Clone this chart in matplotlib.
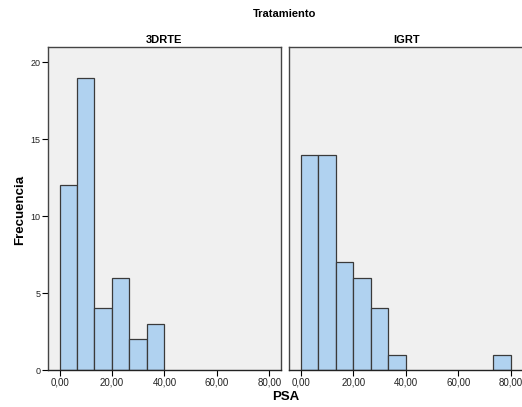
import numpy as np
import matplotlib.pyplot as plt

plt.rcParams['font.family'] = ['Liberation Sans', 'DejaVu Sans']

# histogram bins (PSA), width 80/12
bin_edges = np.linspace(0, 80, 13)
counts_3drte = [12, 19, 4, 6, 2, 3, 0, 0, 0, 0, 0, 0]
counts_igrt = [14, 14, 7, 6, 4, 1, 0, 0, 0, 0, 0, 1]
panels = ["3DRTE", "IGRT"]
xticks = [0, 20, 40, 60, 80]
xticklabels = ["0,00", "20,00", "40,00", "60,00", "80,00"]
yticks = [0, 5, 10, 15, 20]

bar_color = "#b0d2f0"
edge_color = "#3a3a3a"
bg_color = "#f0f0f0"

fig = plt.figure(figsize=(5.22, 4.07), dpi=100)
ax1 = fig.add_axes([0.0914, 0.0909, 0.447, 0.7936])
ax2 = fig.add_axes([0.5536, 0.0909, 0.4497, 0.7936])

for ax, counts, name in zip([ax1, ax2], [counts_3drte, counts_igrt], panels):
    ax.set_facecolor(bg_color)
    widths = np.diff(bin_edges)
    for x0, w, c in zip(bin_edges[:-1], widths, counts):
        if c > 0:
            ax.bar(x0, c, width=w, align='edge', color=bar_color,
                   edgecolor=edge_color, linewidth=0.9)
    ax.set_ylim(0, 21)
    ax.set_xticks(xticks)
    ax.set_xticklabels(xticklabels, fontsize=7, color="#222222")
    ax.tick_params(axis='x', direction='out', length=4, width=0.8, pad=1.5)
    for s in ax.spines.values():
        s.set_color("#444444")
        s.set_linewidth(1.0)
    ax.spines['bottom'].set_color("#222222")
    ax.set_title(name, fontsize=8, fontweight='bold', pad=3)

ax1.set_xlim(-4.5, 84.5)
ax2.set_xlim(-4.5, 85.0)
ax1.set_yticks(yticks)
ax1.set_yticklabels([str(v) for v in yticks], fontsize=6.5, color="#222222")
ax1.tick_params(axis='y', direction='out', length=4, width=0.8, pad=1)
ax2.set_yticks([])

fig.text(0.545, 0.965, "Tratamiento", ha='center', va='center',
         fontsize=8, fontweight='bold')
fig.text(0.548, 0.025, "PSA", ha='center', va='center',
         fontsize=9.5, fontweight='bold')
fig.text(0.038, 0.485, "Frecuencia", ha='center', va='center',
         rotation=90, fontsize=9.5, fontweight='bold')

fig.savefig("out.png", dpi=100)
